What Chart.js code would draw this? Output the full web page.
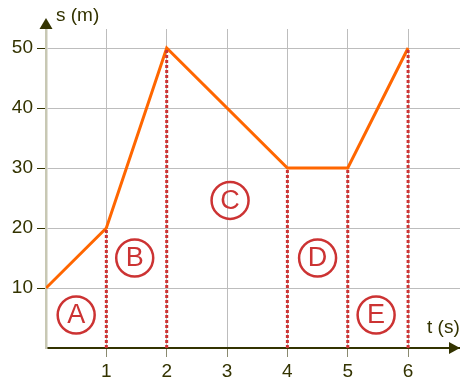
<!DOCTYPE html>
<html>
<head>
<meta charset="utf-8">
<script src="https://cdn.jsdelivr.net/npm/chart.js@4/dist/chart.umd.min.js"></script>
<style>
  html, body { margin: 0; padding: 0; background: #fff; }
  #wrap { width: 460px; height: 378px; position: relative; }
</style>
</head>
<body>
<div id="wrap"><canvas id="chart"></canvas></div>
<script>
// position vs time
const times = [0, 1, 2, 4, 5, 6];
const positions = [10, 20, 50, 30, 30, 50];
// dotted drop lines under the corners
const dropTimes = [1, 2, 4, 5, 6];
const dropValues = [20, 50, 30, 30, 50];
// circled segment labels
const regionNames = ['A', 'B', 'C', 'D', 'E'];
const regionT = [0.5, 1.47, 3.05, 4.5, 5.47];
const regionS = [5.5, 15, 24.6, 15, 5.5];
// axis ticks
const xTicks = [1, 2, 3, 4, 5, 6];
const yTicks = [10, 20, 30, 40, 50];

const FONT = '"Liberation Sans", Arial, sans-serif';
const INK = '#333300';
const RED = '#cc3333';

const datasets = dropTimes.map((t, i) => ({
  data: [{x: t, y: 0}, {x: t, y: dropValues[i]}],
  borderColor: RED, borderWidth: 3, borderDash: [3, 2],
  pointRadius: 0, order: 0
}));
datasets.push({
  data: times.map((t, i) => ({x: t, y: positions[i]})),
  borderColor: '#ff6600', borderWidth: 3, pointRadius: 0,
  tension: 0, order: 1
});

// arrows, axis names and circled letters
const extras = {
  id: 'extras',
  afterDatasetsDraw(chart) {
    const {ctx, scales: {x, y}} = chart;
    ctx.save();
    ctx.lineWidth = 2.5;
    ctx.strokeStyle = RED;
    ctx.fillStyle = RED;
    ctx.font = '27px ' + FONT;
    ctx.textAlign = 'center';
    ctx.textBaseline = 'middle';
    regionNames.forEach((n, i) => {
      const cx = x.getPixelForValue(regionT[i]);
      const cy = y.getPixelForValue(regionS[i]);
      ctx.beginPath();
      ctx.arc(cx, cy, 18.5, 0, Math.PI * 2);
      ctx.stroke();
      ctx.fillText(n, cx, cy + 1);
    });
    ctx.restore();
  },
  afterDraw(chart) {
    const {ctx, chartArea: a} = chart;
    ctx.save();
    ctx.fillStyle = INK;
    // y arrow
    ctx.beginPath();
    ctx.moveTo(a.left, 18);
    ctx.lineTo(a.left - 6.5, a.top);
    ctx.lineTo(a.left + 6.5, a.top);
    ctx.closePath();
    ctx.fill();
    // x arrow
    ctx.beginPath();
    ctx.moveTo(460, a.bottom);
    ctx.lineTo(449, a.bottom - 6);
    ctx.lineTo(449, a.bottom + 6);
    ctx.closePath();
    ctx.fill();
    ctx.font = '19px ' + FONT;
    ctx.textBaseline = 'middle';
    ctx.textAlign = 'left';
    ctx.fillText('s (m)', 56, 16);
    ctx.fillText('t (s)', 427, 328);
    ctx.restore();
  }
};

new Chart(document.getElementById('chart'), {
  type: 'line',
  data: {datasets},
  plugins: [extras],
  options: {
    responsive: true, maintainAspectRatio: false, animation: false,
    layout: {padding: {top: 29, right: 0, left: 0, bottom: 0}},
    plugins: {legend: {display: false}, tooltip: {enabled: false}},
    scales: {
      x: {
        type: 'linear', min: 0, max: 6.86,
        afterBuildTicks: s => { s.ticks = xTicks.map(v => ({value: v})); },
        afterFit: s => { s.height = 30; },
        grid: {color: '#bdbdbd', lineWidth: 1, tickLength: 9, tickColor: '#8a8a70'},
        border: {color: INK, width: 2},
        ticks: {color: INK, font: {family: FONT, size: 19}, padding: 3, maxRotation: 0}
      },
      y: {
        type: 'linear', min: 0, max: 53.17,
        afterBuildTicks: s => { s.ticks = yTicks.map(v => ({value: v})); },
        afterFit: s => { s.width = 46; },
        grid: {color: '#bdbdbd', lineWidth: 1, tickLength: 9, tickColor: INK},
        border: {color: '#c8c8b4', width: 2.5},
        ticks: {color: INK, font: {family: FONT, size: 19}, padding: 4}
      }
    }
  }
});
</script>
</body>
</html>
